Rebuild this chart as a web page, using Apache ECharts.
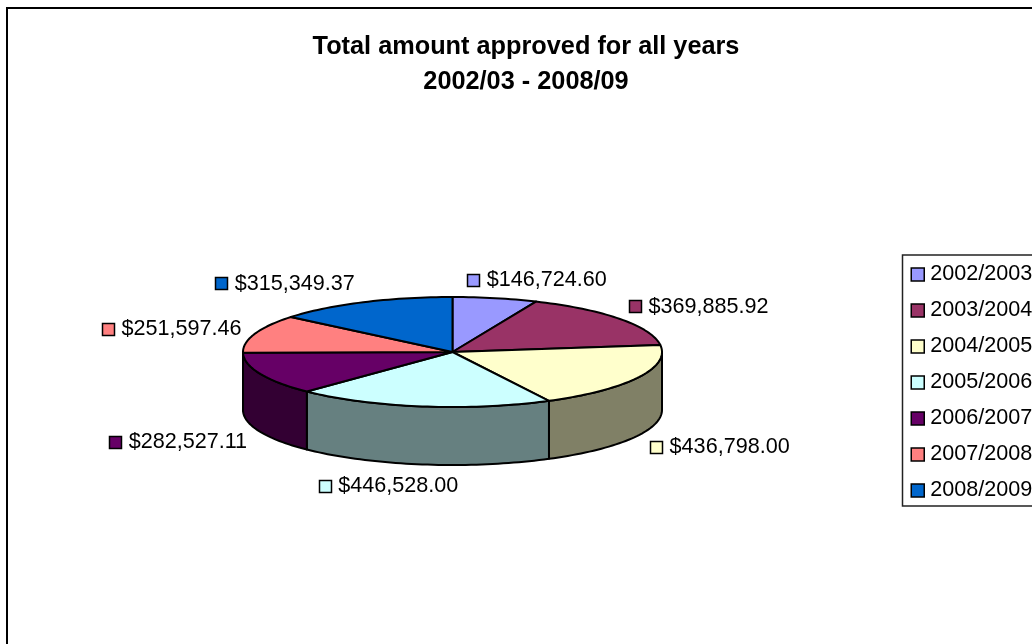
<!DOCTYPE html>
<html>
<head>
<meta charset="utf-8">
<style>
  html, body { margin: 0; padding: 0; background: #fff; }
  #chart { width: 1032px; height: 644px; }
</style>
<script src="https://cdn.jsdelivr.net/npm/echarts@6/dist/echarts.min.js"></script>
</head>
<body>
<div id="chart"></div>
<script>
// Amounts approved per financial year
const years = ['2002/2003', '2003/2004', '2004/2005', '2005/2006', '2006/2007', '2007/2008', '2008/2009'];
const amounts = [146724.60, 369885.92, 436798.00, 446528.00, 282527.11, 251597.46, 315349.37];
const amountLabels = ['$146,724.60', '$369,885.92', '$436,798.00', '$446,528.00', '$282,527.11', '$251,597.46', '$315,349.37'];

// Slice colours and their darker wall shades
const topColors = ['#9999FF', '#993366', '#FFFFCC', '#CCFFFF', '#660066', '#FF8080', '#0066CC'];
const wallColors = ['#4D4D80', '#4D1A33', '#808066', '#668080', '#330033', '#804040', '#003366'];

// Tilted-disc geometry
const disc = { cx: 452.5, cy: 352, rx: 209.5, ry: 55, depth: 58 };
// Where each label's swatch sits relative to the slice's rim midpoint
const labelOffsets = [[-28, -18], [9, -12], [12, 69.5], [-103.5, 80], [-151, 68.7], [-153, -4.2], [-148, -18.7]];
const labelFont = '21.6px "Liberation Sans", Arial, sans-serif';

const total = amounts.reduce((a, b) => a + b, 0);
const rim = (deg) => {
  const t = deg * Math.PI / 180;
  return [disc.cx + disc.rx * Math.sin(t), disc.cy - disc.ry * Math.cos(t)];
};
const arcPoints = (from, to) => {
  const n = Math.max(2, Math.ceil(Math.abs(to - from) / 1.5));
  const pts = [];
  for (let i = 0; i <= n; i++) pts.push(rim(from + (to - from) * i / n));
  return pts;
};
const lineStyle = { stroke: '#000', lineWidth: 2, lineJoin: 'round' };

function sliceRenderer(index) {
  return function (params, api) {
    const value = api.value(0);
    let before = 0;
    for (let i = 0; i < index; i++) before += amounts[i];
    const start = before / total * 360;
    const end = start + value / total * 360;
    const children = [];

    // Only the front half of the disc shows a wall
    const wallFrom = Math.max(start, 90);
    const wallTo = Math.min(end, 270);
    if (wallTo > wallFrom) {
      const upper = arcPoints(wallFrom, wallTo);
      const lower = upper.slice().reverse().map(p => [p[0], p[1] + disc.depth]);
      children.push({
        type: 'polygon', z2: 1,
        shape: { points: upper.concat(lower) },
        style: Object.assign({ fill: wallColors[index] }, lineStyle)
      });
    }

    children.push({
      type: 'polygon', z2: 2,
      shape: { points: [[disc.cx, disc.cy]].concat(arcPoints(start, end)) },
      style: Object.assign({ fill: topColors[index] }, lineStyle)
    });

    // Data label: swatch plus value
    const mid = rim((start + end) / 2);
    const lx = mid[0] + labelOffsets[index][0];
    const ly = mid[1] + labelOffsets[index][1];
    children.push({
      type: 'rect', z2: 3,
      shape: { x: Math.round(lx) + 0.5, y: Math.round(ly - 6.5) + 0.5, width: 12, height: 12 },
      style: { fill: topColors[index], stroke: '#000', lineWidth: 1.5 }
    });
    children.push({
      type: 'text', z2: 3,
      x: lx + 19.5, y: ly,
      style: { text: amountLabels[index], font: labelFont, fill: '#000', verticalAlign: 'middle', align: 'left' }
    });
    return { type: 'group', children };
  };
}

const chart = echarts.init(document.getElementById('chart'), null, { renderer: 'canvas' });
chart.setOption({
  animation: false,
  backgroundColor: '#fff',
  title: {
    text: 'Total amount approved for all years\n2002/03 - 2008/09',
    left: 526, top: 29,
    padding: 0,
    textAlign: 'center',
    textStyle: { fontFamily: '"Liberation Sans", Arial, sans-serif', fontWeight: 'bold', fontSize: 25.3, lineHeight: 35.5, color: '#000' }
  },
  legend: {
    orient: 'vertical',
    left: 902.5, top: 255,
    padding: [7, 40, 3, 8],
    itemGap: 11,
    itemWidth: 13, itemHeight: 13,
    icon: 'rect',
    borderColor: '#222', borderWidth: 1.5,
    selectedMode: false,
    itemStyle: { borderColor: '#000', borderWidth: 1.5 },
    textStyle: { fontFamily: '"Liberation Sans", Arial, sans-serif', fontSize: 21.6, color: '#000', padding: [2, 0, 0, 1], lineHeight: 23 },
    data: years
  },
  graphic: [{
    type: 'polyline', silent: true,
    shape: { points: [[7, 650], [7, 8], [1040, 8]] },
    style: { stroke: '#000', lineWidth: 2, fill: 'none' }
  }],
  series: years.map((name, i) => ({
    type: 'custom',
    name,
    coordinateSystem: 'none',
    renderItem: sliceRenderer(i),
    itemStyle: { color: topColors[i] },
    data: [[amounts[i]]],
    silent: true
  }))
});
</script>
</body>
</html>
